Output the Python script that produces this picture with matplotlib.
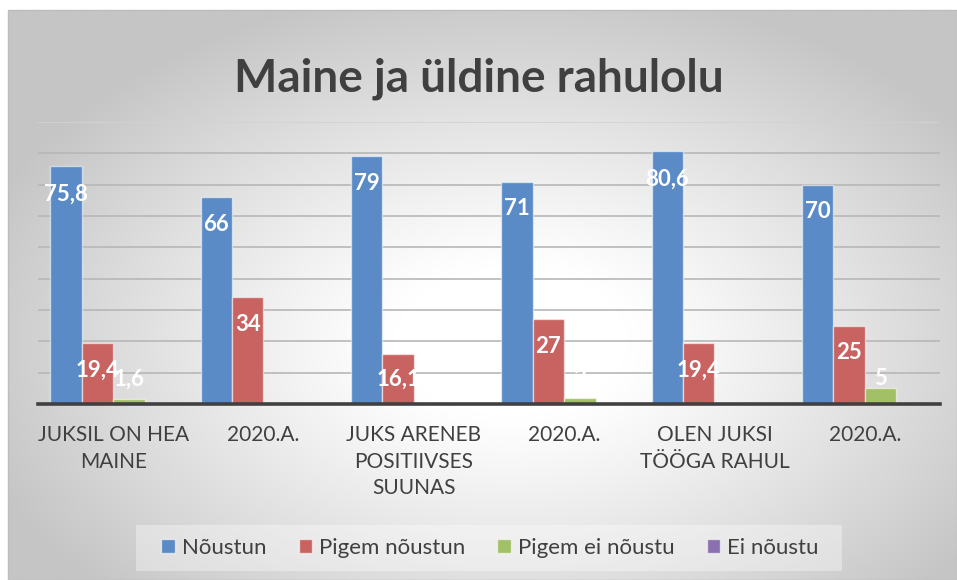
import numpy as np
import matplotlib
matplotlib.use("Agg")
import matplotlib.pyplot as plt
from matplotlib.patches import Rectangle, Patch

categories = ["JUKSIL ON HEA\nMAINE", "2020.A.", "JUKS ARENEB\nPOSITIIVSES\nSUUNAS",
              "2020.A.", "OLEN JUKSI\nTÖÖGA RAHUL", "2020.A."]
series_names = ["Nõustun", "Pigem nõustun", "Pigem ei nõustu", "Ei nõustu"]
noustun = [75.8, 66, 79, 71, 80.6, 70]
pigem_noustun = [19.4, 34, 16.1, 27, 19.4, 25]
pigem_ei_noustu = [1.6, 0, 0, 2, 0, 5]
ei_noustu = [0, 0, 0, 0, 0, 0]
title = "Maine ja üldine rahulolu"

series = [noustun, pigem_noustun, pigem_ei_noustu, ei_noustu]
colors = ["#5b8bc6", "#c96361", "#a2c066", "#8a70ae"]
text_col = "#404040"
FONT = ["Lato", "DejaVu Sans"]
plt.rcParams["font.family"] = FONT

W, H = 957, 580
fig = plt.figure(figsize=(W / 100, H / 100), dpi=100)
fig.patch.set_facecolor("white")

# background radial gradient of chart area
bg = fig.add_axes([8 / W, 0, (W - 8) / W, (H - 10) / H], zorder=-10)
ny, nx = 285, 475
yy, xx = np.mgrid[0:ny, 0:nx]
px = xx * (W - 8) / nx + 8
py = yy * (H - 10) / ny + 10
d = np.sqrt(((px - 510) / 470) ** 2 + ((py - 340) / 300) ** 2)
drop = 58 * np.clip((d - 0.25) / 0.95, 0, 1) ** 1.1
v = (255 - drop) / 255
bg.imshow(np.dstack([v, v, v]), aspect="auto", extent=[0, 1, 0, 1],
          origin="upper", interpolation="bilinear")
bg.axis("off")
fig.patches.append(Rectangle((8 / W, 0), (W - 8) / W, (H - 10) / H, transform=fig.transFigure,
                             fill=False, edgecolor="#bdbdbd", lw=1.0, zorder=-5))

# main axes
ax = fig.add_axes([38 / W, 1 - 404 / H, 902 / W, 282 / H])
ax.set_facecolor("none")
ax.set_xlim(-0.5, len(categories) - 0.5)
ax.set_ylim(0, 90)
ax.set_yticks(np.arange(0, 81, 10))
ax.yaxis.grid(True, color="#b7b7b7", lw=1.2)
ax.axhline(90, color="#d2d2d2", lw=1.2, zorder=0)
ax.set_axisbelow(True)
for s in ["top", "left", "right"]:
    ax.spines[s].set_visible(False)
ax.spines["bottom"].set_color(text_col)
ax.spines["bottom"].set_linewidth(2.6)
ax.spines["bottom"].set_zorder(5)
ax.tick_params(axis="y", length=0, labelleft=False)

x = np.arange(len(categories))
w = 0.209
for j, vals in enumerate(series):
    xs = x + (j - 1.5) * w
    ax.bar(xs, vals, w, color=colors[j], edgecolor=(1, 1, 1, 0.55), lw=1.0, zorder=3)
    for xi, vi in zip(xs, vals):
        if vi == 0:
            continue
        lab = f"{vi:g}".replace(".", ",")
        ax.text(xi, max(vi - 8.7, 8.0), lab, ha="center", va="center", color="white",
                fontsize=16, fontweight="bold", zorder=6)

ax.set_xticks(x)
ax.set_xticklabels(categories, fontsize=15, color=text_col, linespacing=1.42)
ax.tick_params(axis="x", length=0, pad=15)

# title
fig.text(0.5, 1 - 91 / H, title, ha="center", va="baseline", fontsize=33,
         fontweight="bold", color=text_col)

# legend
fig.patches.append(Rectangle((136 / W, 1 - 571 / H), 706 / W, 46 / H, transform=fig.transFigure,
                             facecolor="white", alpha=0.35, edgecolor="none", zorder=1))
handles = [Patch(facecolor=c, edgecolor=(1, 1, 1, 0.6), lw=1) for c in colors]
leg = fig.legend(handles, series_names, loc="center", bbox_to_anchor=(490 / W, 1 - 548 / H),
                 ncol=4, frameon=False, fontsize=16, handlelength=0.62, handleheight=0.62,
                 handletextpad=0.3, columnspacing=1.45)
for t in leg.get_texts():
    t.set_color(text_col)

fig.savefig("out.png", dpi=100)
